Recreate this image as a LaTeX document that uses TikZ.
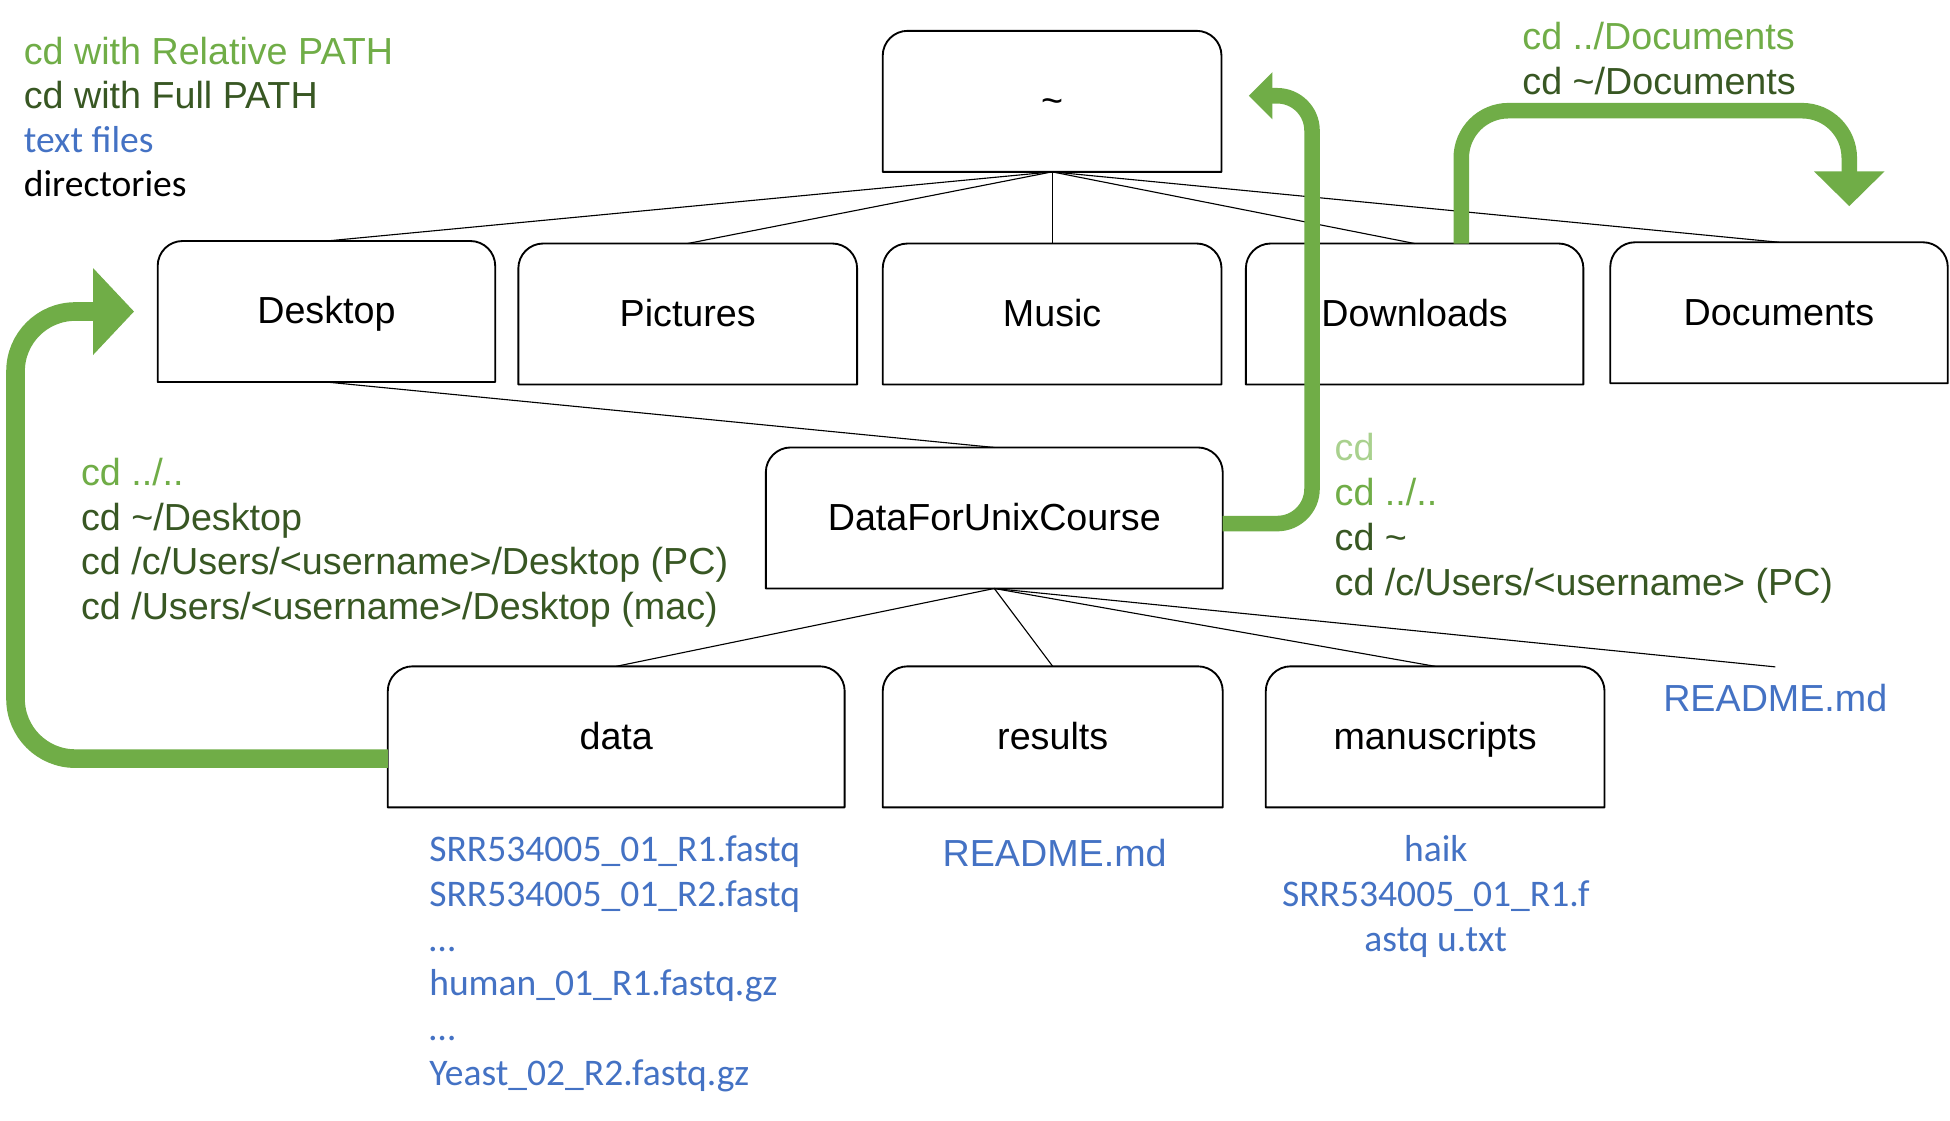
\documentclass[tikz,border=0pt]{standalone}
\usepackage{fontspec}
\setmainfont{Liberation Sans}
\newfontfamily\calibrifont{Carlito}
\usetikzlibrary{arrows.meta}
\definecolor{gLight}{HTML}{70AD47}
\definecolor{gDark}{HTML}{385723}
\definecolor{gPale}{HTML}{A9D18E}
\definecolor{fBlue}{HTML}{4472C4}
\newcommand\lblfont{\fontsize{30.3}{36}\selectfont}
\newcommand\filfont{\calibrifont\fontsize{30.2}{36}\selectfont}
\begin{document}
\begin{tikzpicture}[x=1pt,y=1pt,
  dirbox/.style={minimum width=272pt, minimum height=113pt, inner sep=0pt,
    text height=21pt, text depth=1pt, font=\lblfont},
  tree/.style={line width=0.9pt, black},
  outline/.style={line width=1.5pt, black, line join=round},
  jump/.style={gLight, line width=12.5pt},
  txt/.style={inner sep=0pt, font=\lblfont},
  file/.style={inner sep=0pt, font=\filfont, text=fBlue},
]
\fill[white] (0,0) rectangle (1568,-901.4);
\useasboundingbox (0,0) rectangle (1568,-901.4);

% directory boxes
\node[dirbox] (home) at (846,-81.5) {\textasciitilde};
\node[dirbox, minimum width=271pt] (desk) at (262.5,-250.5) {Desktop};
\node[dirbox] (pic) at (553,-252.5) {Pictures};
\node[dirbox] (mus) at (846,-252.5) {Music};
\node[dirbox, minimum width=271pt] (down) at (1137.5,-252.5) {Downloads};
\node[dirbox, minimum width=271pt] (docs) at (1430.5,-251.5) {Documents};
\node[dirbox, minimum width=367pt] (dfu) at (799.5,-416.5) {DataForUnixCourse};
\node[dirbox, minimum width=367pt] (data) at (495.5,-592.5) {data};
\node[dirbox, minimum width=273pt] (res) at (846.5,-592.5) {results};
\node[dirbox] (man) at (1154,-592.5) {manuscripts};

\foreach \n in {home,desk,pic,mus,down,docs,dfu,data,res,man}
  \draw[outline] (\n.south west) -- ([yshift=-20pt]\n.north west)
    arc[start angle=180, end angle=90, radius=20pt]
    -- ([xshift=-20pt]\n.north east)
    arc[start angle=90, end angle=0, radius=20pt]
    -- (\n.south east) -- cycle;

% legend
\node[txt, text=gLight, anchor=base west] (lg1) at (19,-51.5) {cd with Relative PATH};
\node[txt, text=gDark, anchor=base west] (lg2) at (19,-87) {cd with Full PATH};
\node[file, anchor=base west] (lg3) at (19,-122.5) {text files};
\node[file, text=black, anchor=base west] (lg4) at (19,-158) {directories};

% left commands
\node[txt, text=gLight, anchor=base west] (l1) at (65,-390.5) {cd ../..};
\node[txt, text=gDark, anchor=base west] (l2) at (65,-426.5) {cd \textasciitilde/Desktop};
\node[txt, text=gDark, anchor=base west] (l3) at (65,-462) {cd /c/Users/<username>/Desktop (PC)};
\node[txt, text=gDark, anchor=base west] (l4) at (65,-498) {cd /Users/<username>/Desktop (mac)};

% right commands
\node[txt, text=gPale, anchor=base west] (r1) at (1073,-370.5) {cd};
\node[txt, text=gLight, anchor=base west] (r2) at (1073,-406.5) {cd ../..};
\node[txt, text=gDark, anchor=base west] (r3) at (1073,-442.5) {cd \textasciitilde};
\node[txt, text=gDark, anchor=base west] (r4) at (1073,-478.5) {cd /c/Users/<username> (PC)};

% top right commands
\node[txt, text=gLight, anchor=base west] (t1) at (1224,-39.6) {cd ../Documents};
\node[txt, text=gDark, anchor=base west] (t2) at (1224,-76) {cd \textasciitilde/Documents};

% files
\node[txt, text=fBlue, anchor=base] (rm1) at (848,-697) {README.md};
\node[txt, text=fBlue, anchor=base] (rm2) at (1427.5,-572.4) {README.md};

\node[file, anchor=base] (hk1) at (1154.5,-693) {haik};
\node[file, anchor=base] (hk2) at (1154.5,-728.6) {SRR534005\_01\_R1.f};
\node[file, anchor=base] (hk3) at (1154.5,-764.7) {astq u.txt};

\node[file, anchor=base west] (f1) at (345,-693) {SRR534005\_01\_R1.fastq};
\node[file, anchor=base west] (f2) at (345,-728.6) {SRR534005\_01\_R2.fastq};
\node[file, anchor=base west] (f3) at (345,-764.7) {…};
\node[file, anchor=base west] (f4) at (345,-800.7) {human\_01\_R1.fastq.gz};
\node[file, anchor=base west] (f5) at (345,-836.5) {…};
\node[file, anchor=base west] (f6) at (345,-872.5) {Yeast\_02\_R2.fastq.gz};

% tree connectors
\foreach \n in {desk,pic,mus,down,docs}
  \draw[tree] (home.south) -- (\n.north);
\draw[tree] (desk.south) -- (dfu.north);
\foreach \n in {data,res,man}
  \draw[tree] (dfu.south) -- (\n.north);
\draw[tree] (dfu.south) -- ([yshift=14pt]rm2.north);

% green cd arrows
\draw[jump, line width=15pt, rounded corners=48pt, -{Triangle[width=68pt,length=33pt]}]
  ([yshift=-17.5pt]data.west) -- (12.5,-610) -- (12.5,-250.5) -- ([xshift=-19pt]desk.west);
\draw[jump, rounded corners=28pt, -{Triangle[width=37pt,length=19pt]}]
  ([yshift=-4.5pt]dfu.east) -- (1055,-421) -- (1055,-77) -- ([xshift=22pt,yshift=4.5pt]home.east);
\draw[jump, rounded corners=38pt, -{Triangle[width=55pt,length=28pt]}]
  ([xshift=37.5pt]down.north) -- (1175,-89) -- (1487,-89) -- ([xshift=56.5pt,yshift=29pt]docs.north);
\end{tikzpicture}
\end{document}
